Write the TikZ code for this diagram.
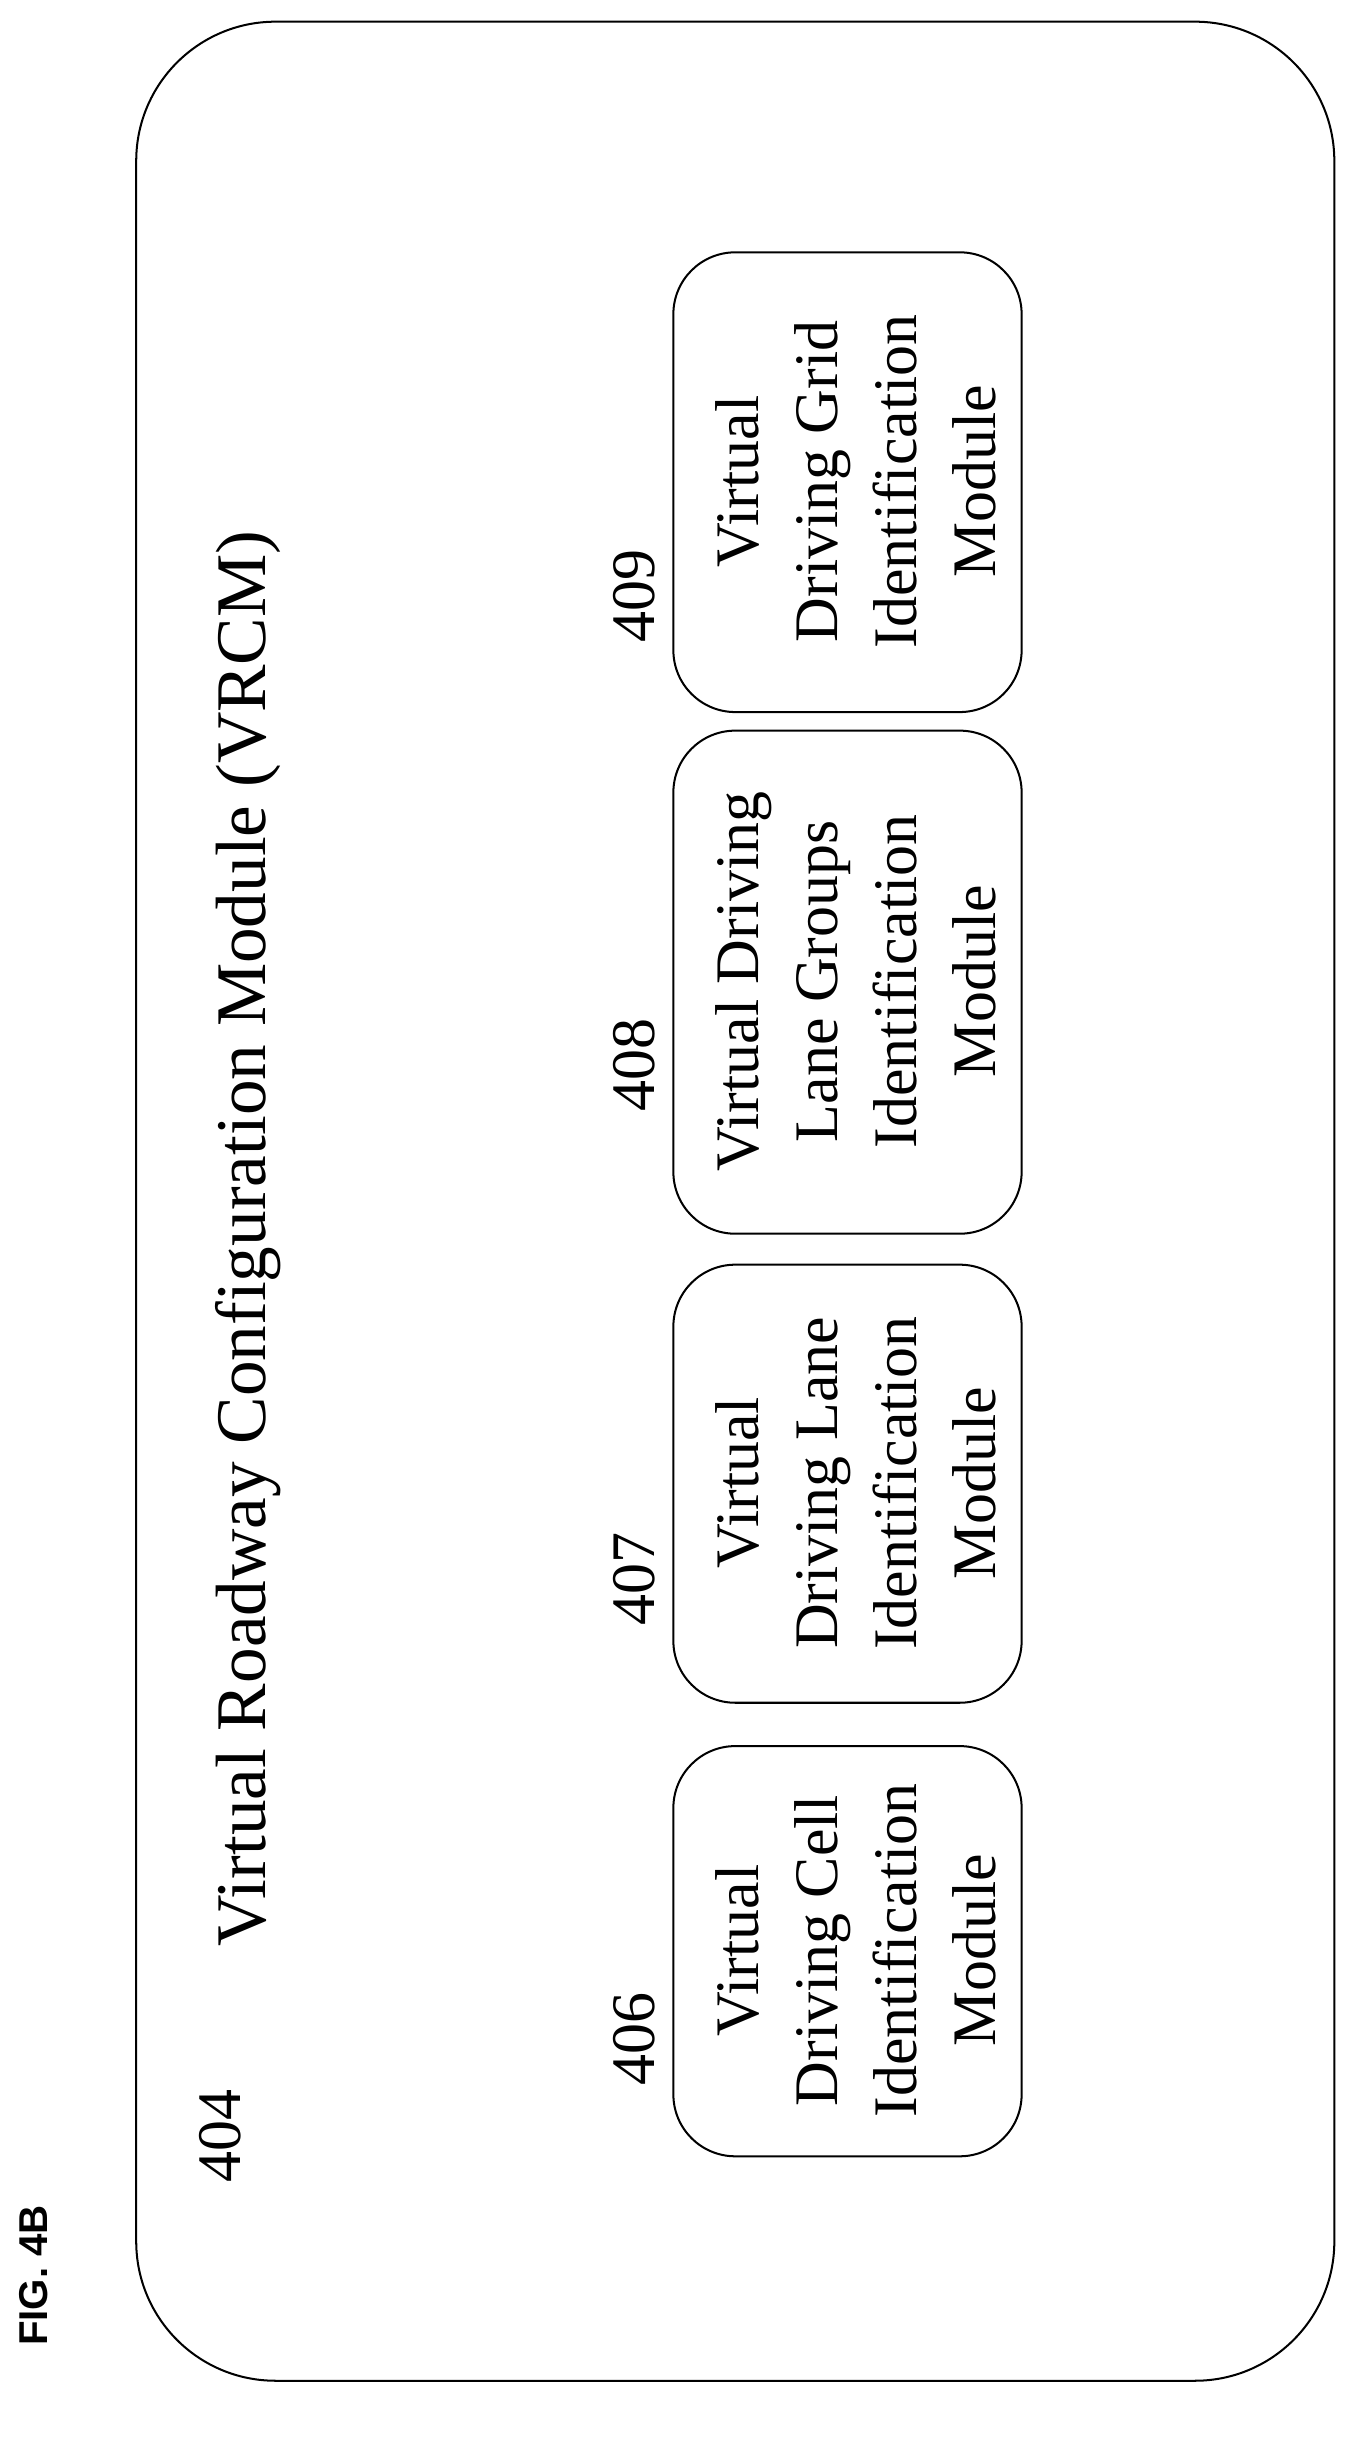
\documentclass[tikz,border=0pt]{standalone}
\usepackage{fontspec}
\setmainfont{Liberation Serif}
\setsansfont{Liberation Sans}
\begin{document}
\begin{tikzpicture}[x=1pt,y=-1pt,
  modbox/.style={draw,line width=1.3pt,rounded corners=40pt},
  modtext/.style={rotate=90,align=center,font=\fontsize{40}{51}\selectfont},
  num/.style={rotate=90,font=\fontsize{40}{48}\selectfont}]
\useasboundingbox (0,0) rectangle (880,1575);
\draw[line width=1.3pt,rounded corners=90pt] (88,14) rectangle (862,1538);
\node[rotate=90,font=\sffamily\bfseries\fontsize{26}{30}\selectfont] (fig) at (22,1470) {FIG. 4B};
\node[num] (n404) at (142,1380) {404};
\node[rotate=90,font=\fontsize{46}{54}\selectfont] (title) at (160,800) {Virtual Roadway Configuration Module (VRCM)};
\draw[modbox] (435,1128) rectangle (660,1393);
\draw[modbox] (435,817) rectangle (660,1100);
\draw[modbox] (435,472) rectangle (660,797);
\draw[modbox] (435,163) rectangle (660,460);
\node[modtext] (m406) at (553,1260) {Virtual\\Driving Cell\\Identification\\Module};
\node[modtext] (m407) at (553,958) {Virtual\\Driving Lane\\Identification\\Module};
\node[modtext] (m408) at (553,634) {Virtual Driving\\Lane Groups\\Identification\\Module};
\node[modtext] (m409) at (553,311) {Virtual\\Driving Grid\\Identification\\Module};
\node[num] (n406) at (410,1317) {406};
\node[num] (n407) at (410,1020) {407};
\node[num] (n408) at (410,688) {408};
\node[num] (n409) at (410,385) {409};
\end{tikzpicture}
\end{document}
